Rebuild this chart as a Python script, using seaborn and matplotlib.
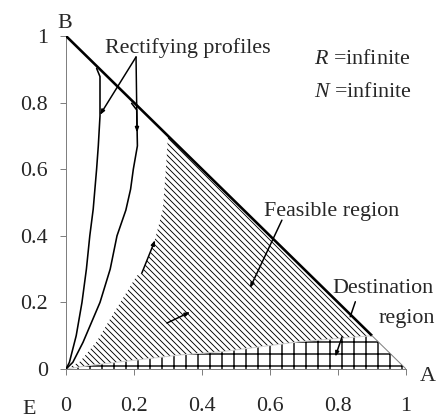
import numpy as np
import pandas as pd
import matplotlib
matplotlib.use("Agg")
import matplotlib.pyplot as plt
import seaborn as sns

# ---- data ----
profile1_x = [0.0, 0.01, 0.03, 0.047, 0.06, 0.07, 0.08, 0.09, 0.095, 0.10, 0.10, 0.09]
profile1_y = [0.0, 0.02, 0.10, 0.20, 0.30, 0.40, 0.48, 0.60, 0.67, 0.76, 0.878, 0.903]
profile2_x = [0.0, 0.02, 0.05, 0.10, 0.13, 0.15, 0.176, 0.19, 0.198, 0.21, 0.208, 0.193]
profile2_y = [0.0, 0.02, 0.08, 0.20, 0.30, 0.40, 0.477, 0.54, 0.60, 0.67, 0.778, 0.798]

feasible_left_x = [0.30, 0.295, 0.285, 0.262, 0.225, 0.208, 0.164, 0.128, 0.09, 0.041, 0.0]
feasible_left_y = [0.70, 0.62, 0.48, 0.39, 0.29, 0.28, 0.207, 0.147, 0.082, 0.022, 0.0]
boundary_x = [0.0, 0.08, 0.208, 0.335, 0.459, 0.688, 0.90]
boundary_y = [0.0, 0.012, 0.027, 0.042, 0.052, 0.082, 0.10]

diag_x = [0.0, 0.90]
diag_y = [1.0, 0.10]
diag_tail_x = [0.90, 1.0]
diag_tail_y = [0.10, 0.0]

x_ticks = [0, 0.2, 0.4, 0.6, 0.8, 1]
y_ticks = [0, 0.2, 0.4, 0.6, 0.8, 1]
x_tick_labels = ["0", "0.2", "0.4", "0.6", "0.8", "1"]
y_tick_labels = ["0", "0.2", "0.4", "0.6", "0.8", "1"]

# ---- style ----
sns.set_style("white")
plt.rcParams['font.family'] = ['Liberation Serif', 'DejaVu Serif']
plt.rcParams['mathtext.fontset'] = 'custom'
plt.rcParams['mathtext.rm'] = 'Liberation Serif'
plt.rcParams['mathtext.it'] = 'Liberation Serif:italic'
plt.rcParams['hatch.linewidth'] = 0.9
plt.rcParams['hatch.color'] = 'black'
FS = 22

fig = plt.figure(figsize=(444/72, 419/72), dpi=72)
ax = fig.add_axes([66/444, 50/419, 340/444, 333/419])

# feasible region (diagonal hatch)
fx = feasible_left_x + boundary_x[1:] + [0.30]
fy = feasible_left_y + boundary_y[1:] + [0.70]
p1 = ax.fill(fx, fy, facecolor='white', edgecolor='black', linewidth=0,
             hatch='\\\\\\\\', zorder=1)[0]

# destination region (cross hatch)
plt.rcParams['hatch.linewidth'] = 1.4
dx = boundary_x + [1.0, 0.0]
dy = boundary_y + [0.0, 0.0]
p2 = ax.fill(dx, dy, facecolor='white', edgecolor='black', linewidth=0,
             hatch='+', zorder=1)[0]
for p, hl in ((p1, 0.9), (p2, 1.4)):
    if hasattr(p, 'set_hatch_linewidth'):
        p.set_hatch_linewidth(hl)

# thin separating line between regions
ax.plot(boundary_x, boundary_y, color='#d0d0d0', lw=1.0, zorder=2)

# diagonal
ax.plot(diag_x, diag_y, color='black', lw=2.6, zorder=3, solid_capstyle='butt')
ax.plot(diag_tail_x, diag_tail_y, color='#808080', lw=1.0, zorder=3)

# rectifying profiles
df = pd.concat([
    pd.DataFrame({'x': profile1_x, 'y': profile1_y, 'p': 'p1'}),
    pd.DataFrame({'x': profile2_x, 'y': profile2_y, 'p': 'p2'}),
])
sns.lineplot(data=df, x='x', y='y', units='p', estimator=None, sort=False,
             color='black', lw=1.6, ax=ax, zorder=4, legend=False)

ax.set_xlim(0, 1)
ax.set_ylim(0, 1)
ax.set_xticks(x_ticks)
ax.set_xticklabels(x_tick_labels)
ax.set_yticks(y_ticks)
ax.set_yticklabels(y_tick_labels)
ax.set_xlabel('')
ax.set_ylabel('')
for s in ['top', 'right']:
    ax.spines[s].set_visible(False)
for s in ['left', 'bottom']:
    ax.spines[s].set_color('#808080')
    ax.spines[s].set_linewidth(1.0)
ax.tick_params(axis='both', which='major', direction='out', length=6, width=1,
               color='#808080', labelsize=FS, bottom=True, left=True)
ax.tick_params(axis='x', pad=22)
ax.tick_params(axis='y', pad=12)

# annotations
arrow_kw = dict(arrowstyle='-|>,head_length=0.4,head_width=0.15', color='black', lw=1.5,
                shrinkA=0, shrinkB=0)
ax.text(0.115, 0.949, 'Rectifying profiles', fontsize=FS, ha='left', va='baseline')
ax.annotate('', xy=(0.10, 0.763), xytext=(0.206, 0.937), arrowprops=arrow_kw)
ax.annotate('', xy=(0.209, 0.71), xytext=(0.206, 0.937), arrowprops=arrow_kw)

ax.text(0.729, 0.916, r'$R$ =infinite', fontsize=FS, ha='left', va='baseline')
ax.text(0.729, 0.818, r'$N$ =infinite', fontsize=FS, ha='left', va='baseline')

ax.text(0.582, 0.459, 'Feasible region', fontsize=FS, ha='left', va='baseline')
ax.annotate('', xy=(0.541, 0.243), xytext=(0.635, 0.447), arrowprops=arrow_kw)

ax.text(0.782, 0.228, 'Destination', fontsize=FS, ha='left', va='baseline', clip_on=False)
ax.text(1.085, 0.138, 'region', fontsize=FS, ha='right', va='baseline', clip_on=False)
ax.plot([0.851, 0.836], [0.202, 0.157], color='black', lw=1.5, zorder=5)
ax.annotate('', xy=(0.792, 0.037), xytext=(0.812, 0.097), arrowprops=arrow_kw)

ax.annotate('', xy=(0.262, 0.387), xytext=(0.223, 0.288), arrowprops=arrow_kw)
ax.annotate('', xy=(0.365, 0.171), xytext=(0.297, 0.138), arrowprops=arrow_kw)

ax.text(-0.003, 1.024, 'B', fontsize=FS, ha='center', va='baseline', clip_on=False)
ax.text(1.065, -0.035, 'A', fontsize=FS, ha='center', va='baseline', clip_on=False)
ax.text(-0.11, -0.134, 'E', fontsize=FS, ha='center', va='baseline', clip_on=False)

fig.savefig('out.png', dpi=72)
